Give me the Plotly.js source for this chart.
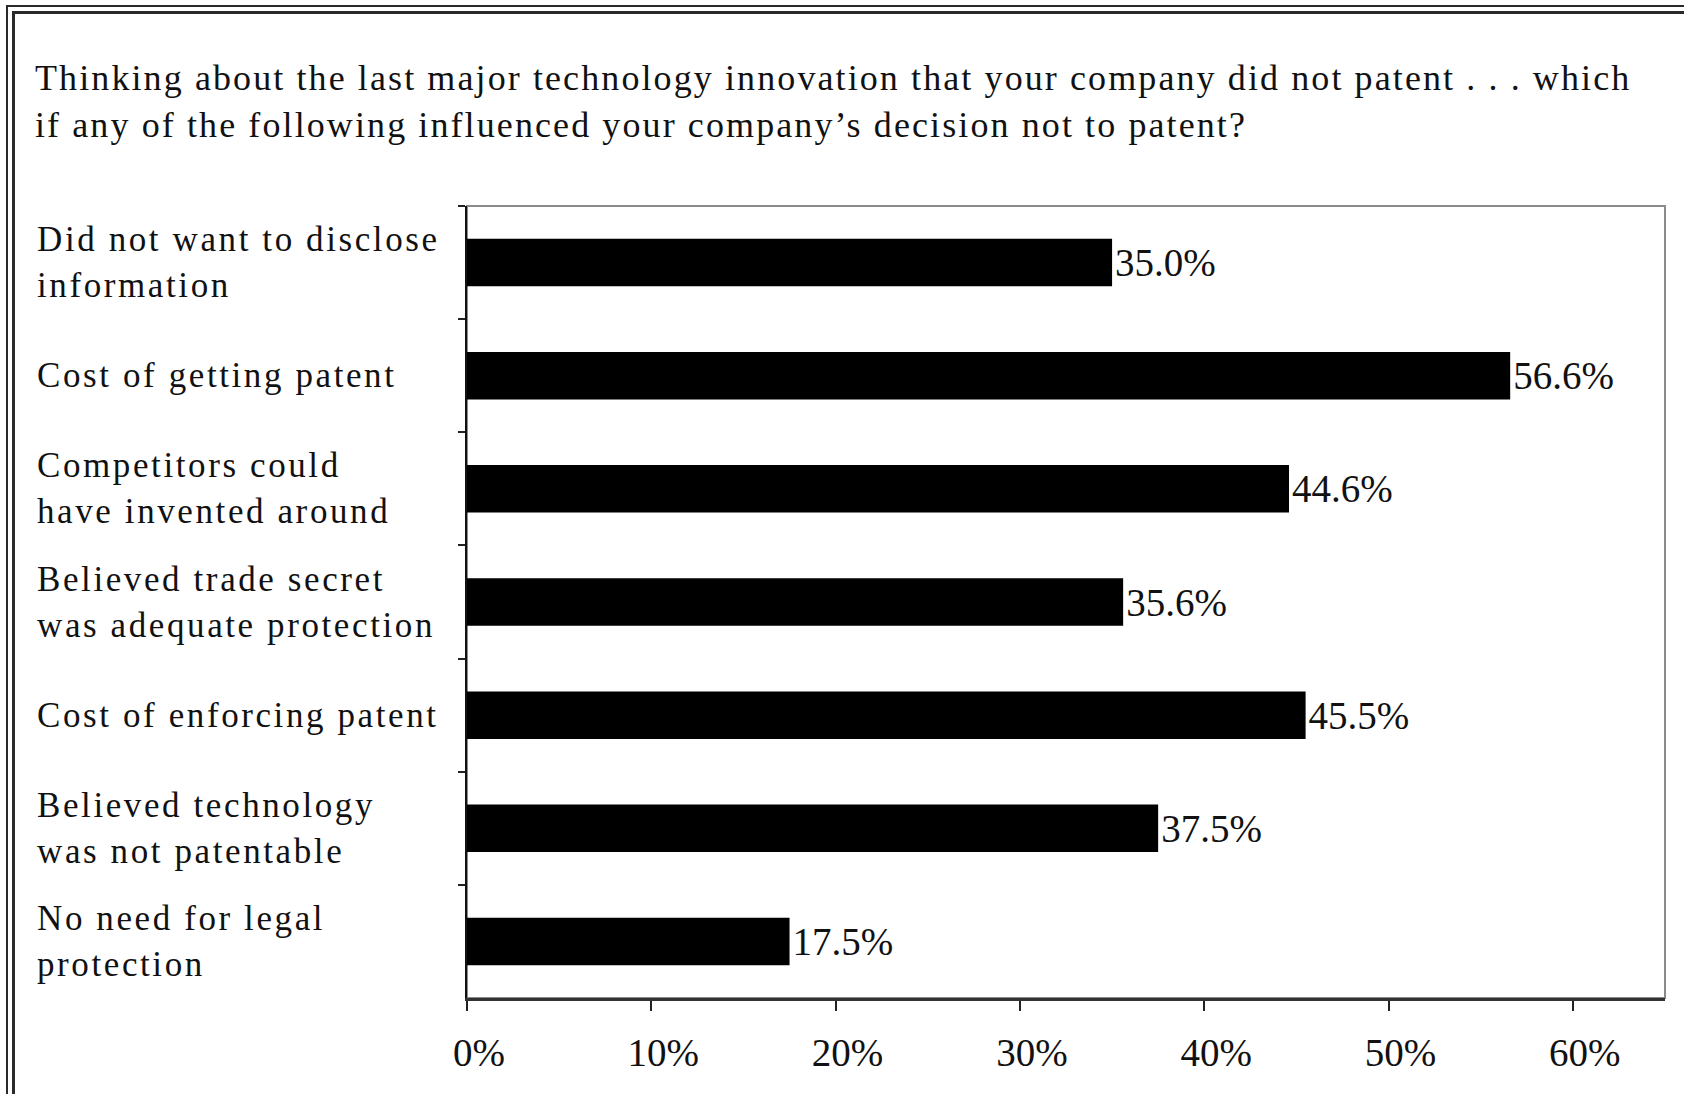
<!DOCTYPE html>
<html>
<head>
<meta charset="utf-8">
<script src="https://cdn.plot.ly/plotly-3.0.1.min.js"></script>
<style>
  html, body { margin: 0; padding: 0; background: #ffffff; }
  #wrap { position: relative; width: 1684px; height: 1094px; overflow: hidden; background: #fff; }
  .frame { position: absolute; border-top: 2px solid #2a2a2a; border-left: 2px solid #2a2a2a; width: 2000px; height: 2000px; pointer-events: none; }
  #f1 { left: 6px; top: 5px; }
  #f2 { left: 12px; top: 11px; border-top-width: 3px; border-left-width: 3px; }
  #chart { position: absolute; left: 0; top: 0; width: 1684px; height: 1094px; }
  #chart .gtitle { letter-spacing: 2.1px; }
  #chart .annotation-text { letter-spacing: 2.6px; }
</style>
</head>
<body>
<div id="wrap">
  <div class="frame" id="f1"></div>
  <div class="frame" id="f2"></div>
  <div id="chart"></div>
</div>
<script>
const titleText = "Thinking about the last major technology innovation that your company did not patent . . . which<br>if any of the following influenced your company\u2019s decision not to patent?";
const categories = [
  "Did not want to disclose<br>information",
  "Cost of getting patent",
  "Competitors could<br>have invented around",
  "Believed trade secret<br>was adequate protection",
  "Cost of enforcing patent",
  "Believed technology<br>was not patentable",
  "No need for legal<br>protection"
];
const values = [35.0, 56.6, 44.6, 35.6, 45.5, 37.5, 17.5];
const tickValues = [0, 10, 20, 30, 40, 50, 60];
const tickLabels = ["0%", "10%", "20%", "30%", "40%", "50%", "60%"];

const serif = "Liberation Serif, DejaVu Serif, serif";
const W = 1684, H = 1094;
const mL = 467, mR = 19, mT = 206, mB = 96;
const plotW = W - mL - mR;
const labelX = (35 - mL) / plotW;

const trace = {
  type: "bar",
  orientation: "h",
  y: categories,
  x: values,
  width: 0.42,
  marker: { color: "#000000", line: { width: 0 } },
  texttemplate: "%{x:.1f}%",
  textposition: "outside",
  cliponaxis: false,
  textfont: { family: serif, size: 39, color: "#111" },
  hoverinfo: "skip"
};

const annotations = categories.map(c => ({
  xref: "paper", yref: "y",
  x: labelX, y: c,
  xanchor: "left", yanchor: "middle",
  align: "left",
  text: c,
  showarrow: false,
  font: { family: serif, size: 35, color: "#111" }
}));

const layout = {
  width: W, height: H,
  paper_bgcolor: "rgba(0,0,0,0)",
  plot_bgcolor: "#ffffff",
  margin: { l: mL, r: mR, t: mT, b: mB, pad: 0 },
  showlegend: false,
  title: {
    text: titleText,
    x: 35 / W, xanchor: "left", xref: "container",
    y: 1 - 90 / H, yanchor: "top", yref: "container",
    font: { family: serif, size: 36, color: "#111" }
  },
  xaxis: {
    range: [0, 65],
    tickvals: tickValues,
    ticktext: tickLabels,
    ticks: "outside", ticklen: 10, tickwidth: 2, tickcolor: "#222",
    showline: true, linecolor: "#333", linewidth: 3,
    showgrid: false, zeroline: false,
    ticklabelstandoff: 8,
    ticklabelshift: 12,
    tickfont: { family: serif, size: 39, color: "#111" }
  },
  yaxis: {
    autorange: "reversed",
    type: "category",
    ticks: "outside", ticklen: 7, tickwidth: 2, tickcolor: "#222",
    tickson: "boundaries",
    showticklabels: false,
    showline: true, linecolor: "#111", linewidth: 2,
    showgrid: false, zeroline: false
  },
  shapes: [{
    type: "rect", xref: "paper", yref: "paper",
    x0: 0, x1: 1, y0: 0, y1: 1,
    line: { color: "#8a8a8a", width: 2 }, layer: "below"
  }],
  annotations: annotations
};

Plotly.newPlot("chart", [trace], layout, { displayModeBar: false, staticPlot: true });
</script>
</body>
</html>
